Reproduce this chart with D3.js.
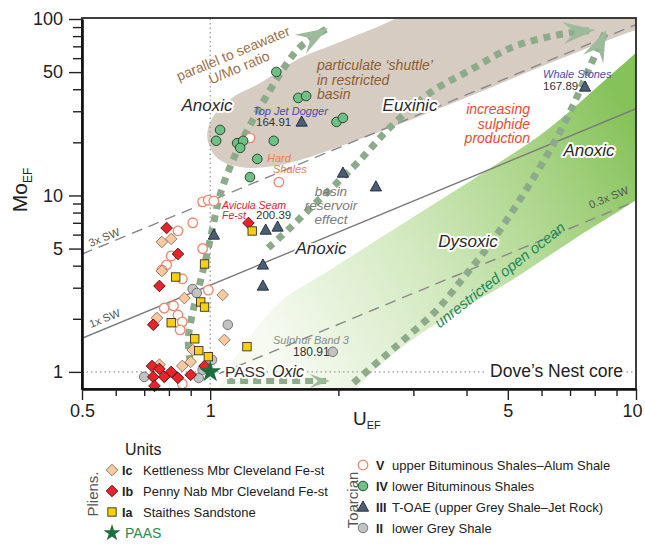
<!DOCTYPE html>
<html>
<head>
<meta charset="utf-8">
<script src="https://cdn.jsdelivr.net/npm/d3@7/dist/d3.min.js"></script>
<style>
  body { margin: 0; background: #fff; }
  text { font-family: "Liberation Sans", Arial, sans-serif; }
  .halo { paint-order: stroke; stroke: #fff; stroke-width: 4px; stroke-linejoin: round; }
</style>
</head>
<body>
<svg id="chart" width="645" height="545"></svg>
<script>
// ---- ticks ----
const xMajor = [0.5, 1, 5, 10];
const xMinor = [0.6, 0.7, 0.8, 0.9, 2, 3, 4, 6, 7, 8, 9];
const yMajor = [1, 5, 10, 50, 100];
const yMinor = [2, 3, 4, 6, 7, 8, 9, 20, 30, 40, 60, 70, 80, 90];

// ---- seawater reference lines (Mo_EF = ratio * k * U_EF) ----
const swRatio = 3.1;
const swMultiples = [3, 1, 0.3];
const swLabels = ["3x SW", "1x SW", "0.3x SW"];

// ---- samples [U_EF, Mo_EF] ----
const unitV = [[1.24,21.2],[1.45,11.9],[0.96,9.2],[0.99,9.4],[1.02,9.3],[0.91,7.0],[0.84,6.3],[0.96,5.0],
  [0.81,4.54],[0.79,4.04],[0.77,3.78],[0.86,3.37],[0.99,2.91],[0.78,2.30],[0.82,2.37],[0.84,2.10],
  [0.86,1.92],[0.85,1.73],[0.86,0.855]];
const unitIV = [[1.43,50.1],[1.61,35.7],[1.68,36.6],[1.98,26.1],[2.05,27.5],[1.055,23.5],[1.033,20.4],
  [1.157,19.8],[1.195,20.4],[1.176,18.6],[1.41,20.4],[1.29,16.1],[1.24,12.7]];
const unitIII = [[1.64,26.1],[7.59,41.2],[1.02,5.97],[1.35,6.37],[1.44,6.63],[1.33,4.04],[1.33,3.07],
  [2.05,13.4],[2.45,11.2]];
const unitII = [[0.91,2.95],[0.93,2.80],[1.10,1.85],[1.94,1.30],[0.70,0.937],[0.94,0.925],[0.96,1.03],[1.01,1.17]];
const unitIc = [[0.77,5.45],[0.81,5.67],[0.77,3.73],[0.87,2.62],[1.07,2.73],[0.75,2.02],[1.08,1.52],
  [0.91,1.33],[0.90,1.14],[0.86,1.08],[0.76,1.10]];
const unitIb = [[0.79,6.54],[0.84,4.66],[0.76,3.07],[0.735,1.85],[0.73,1.08],[0.76,1.04],[0.81,1.0],
  [0.735,0.937],[0.78,0.937],[0.84,0.925],[0.90,0.962],[0.74,0.833],[1.23,6.98],[0.97,1.08]];
const unitIa = [[1.255,6.29],[0.97,4.09],[0.83,3.45],[0.95,2.49],[0.97,2.33],[0.81,1.90],[0.92,1.54],
  [0.94,1.32],[0.99,1.22],[1.22,1.39]];
const paas = [[1, 1]];

// ---- background fields and trend arrows [U_EF, Mo_EF] ----
const shuttleField = [[0.984,21.5],[1.016,27.9],[1.132,36.1],[1.31,43.4],[1.626,60.1],[1.91,70.3],
  [2.37,86.6],[3.11,112],[6.28,146],[14.1,146],[14.1,112],[10,86.6],[6.28,56.3],[4.08,36.6],
  [2.79,25.4],[1.91,18.1],[1.626,15.9],[1.36,14.5],[1.176,14.5],[1.038,16.3]];
const oceanTop = [[1.02,0.74],[1.176,1.33],[1.46,2.49],[1.91,3.78],[3.00,7.55],[4.47,13.9],[6.18,23.5],
  [8.83,49.4],[10.8,76.0]];
const oceanBottom = [[10.8,10.7],[9.84,9.18],[7.11,5.60],[4.98,3.19],[3.28,1.78],[2.51,1.10],[2.17,0.77]];
const arrowOxic = [[1.096,0.889],[1.91,0.889]];
const arrowOpen = [[2.17,0.866],[2.51,1.17],[2.90,1.58],[3.41,2.25],[3.93,3.41],[4.47,5.04],[5.06,7.75],
  [5.70,12.2],[6.38,19.3],[7.10,32.0],[7.75,52.0],[8.51,86.6]];
const arrowRestricted = [[0.898,1.14],[0.888,1.52],[0.907,2.10],[0.937,2.91],[0.973,4.20],[1.011,6.37],
  [1.055,10.1],[1.145,17.0],[1.26,26.8],[1.383,39.6],[1.50,54.2],[1.626,69.4],[1.89,88.9]];
const arrowShuttle = [[1.368,5.04],[1.54,6.54],[1.72,8.50],[1.965,11.5],[2.25,15.9],[2.65,24.4],
  [3.28,38.1],[4.08,51.4],[5.14,69.4],[6.53,81.2],[8.01,86.6]];

const pliensUnits = [
  {code: "Ic", name: "Kettleness Mbr Cleveland Fe-st"},
  {code: "Ib", name: "Penny Nab Mbr Cleveland Fe-st"},
  {code: "Ia", name: "Staithes Sandstone"}
];
const toarcUnits = [
  {code: "V", name: "upper Bituminous Shales\u2013Alum Shale"},
  {code: "IV", name: "lower Bituminous Shales"},
  {code: "III", name: "T-OAE (upper Grey Shale\u2013Jet Rock)"},
  {code: "II", name: "lower Grey Shale"}
];

// ---- look ----
const look = {
  Ic:  {shape: "diamond",  fill: "#f9caa0", stroke: "#8a7262"},
  Ib:  {shape: "diamond",  fill: "#e8232b", stroke: "#4a1212"},
  Ia:  {shape: "square",   fill: "#f6d00c", stroke: "#3a3222"},
  V:   {shape: "circle",   fill: "#ffffff", stroke: "#f2866a"},
  IV:  {shape: "circle",   fill: "#6fc084", stroke: "#1f3a28"},
  III: {shape: "triangle", fill: "#4c5d74", stroke: "#1d2836"},
  II:  {shape: "circle",   fill: "#c2c2c2", stroke: "#6a6a6a"},
  PAAS:{shape: "star",     fill: "#1c6e3c", stroke: "none"}
};

const svg = d3.select("#chart");
const x = d3.scaleLog().domain([0.5, 10]).range([82, 636]);
const y = d3.scaleLog().domain([0.8, 100]).range([389, 19]);

const defs = svg.append("defs");
defs.append("clipPath").attr("id", "plotClip")
  .append("rect").attr("x", 82).attr("y", 18).attr("width", 554).attr("height", 371);

const grad = defs.append("linearGradient").attr("id", "oceanGrad")
  .attr("gradientUnits", "userSpaceOnUse")
  .attr("x1", 270).attr("y1", 340).attr("x2", 636).attr("y2", 130);
grad.append("stop").attr("offset", 0).attr("stop-color", "#f6faf1");
grad.append("stop").attr("offset", 0.4).attr("stop-color", "#d3e9c0");
grad.append("stop").attr("offset", 0.75).attr("stop-color", "#a9d487");
grad.append("stop").attr("offset", 1).attr("stop-color", "#86c25a");

function addHead(id, len, half, notch) {
  defs.append("marker").attr("id", id)
    .attr("viewBox", (-len - 2) + " " + (-half - 1) + " " + (len + 4) + " " + (2 * half + 2))
    .attr("markerWidth", len + 4).attr("markerHeight", 2 * half + 2)
    .attr("refX", 0).attr("refY", 0)
    .attr("orient", "auto").attr("markerUnits", "userSpaceOnUse")
    .append("path")
    .attr("d", "M0,0L" + (-len) + "," + (-half) + "L" + (-notch) + ",0L" + (-len) + "," + half + "Z")
    .attr("fill", "#9dba9b");
}
addHead("headBig", 32, 11, 20);
addHead("headSmall", 20, 7, 12);

const plot = svg.append("g").attr("clip-path", "url(#plotClip)");

// open ocean field
const smooth = d3.line().x(d => x(d[0])).y(d => y(d[1])).curve(d3.curveCatmullRom.alpha(0.5));
const oceanPath = smooth(oceanTop) + smooth(oceanBottom).replace("M", "L") + "Z";
plot.append("path").attr("d", oceanPath).attr("fill", "url(#oceanGrad)");

// particulate shuttle field
plot.append("path")
  .attr("d", d3.line().x(d => x(d[0])).y(d => y(d[1])).curve(d3.curveCatmullRomClosed.alpha(0.5))(shuttleField))
  .attr("fill", "#d6ccc2");

// PAAS reference lines
plot.append("line").attr("x1", x(1)).attr("x2", x(1)).attr("y1", y(0.8)).attr("y2", y(100))
  .attr("stroke", "#999").attr("stroke-width", 1.3).attr("stroke-dasharray", "1.5,3");
plot.append("line").attr("x1", x(0.5)).attr("x2", x(10)).attr("y1", y(1)).attr("y2", y(1))
  .attr("stroke", "#999").attr("stroke-width", 1.3).attr("stroke-dasharray", "1.5,3");

// seawater lines
swMultiples.forEach((k, i) => {
  const u0 = k < 1 ? 1.05 : 0.5;
  plot.append("line")
    .attr("x1", x(u0)).attr("y1", y(u0 * k * swRatio))
    .attr("x2", x(10)).attr("y2", y(10 * k * swRatio))
    .attr("stroke", k === 1 ? "#7a7a7a" : "#888").attr("stroke-width", 1.4)
    .attr("stroke-dasharray", k === 1 ? null : "11,7");
});

// trend arrows
[arrowOpen, arrowRestricted, arrowShuttle].forEach(a => {
  plot.append("path").attr("d", smooth(a)).attr("fill", "none")
    .attr("stroke", "#8dab8b").attr("stroke-width", 7).attr("stroke-dasharray", "7,6")
    .attr("marker-end", "url(#headBig)");
});
plot.append("path").attr("d", smooth(arrowOxic)).attr("fill", "none")
  .attr("stroke", "#8dab8b").attr("stroke-width", 6).attr("stroke-dasharray", "8,5")
  .attr("marker-end", "url(#headSmall)");

// ---- annotations ----
const notes = svg.append("g");
function note(txt, px, py, o) {
  const t = notes.append("text").attr("x", px).attr("y", py).text(txt)
    .attr("font-size", o.size || 12).attr("fill", o.color || "#333")
    .attr("text-anchor", o.anchor || "start");
  if (o.italic) t.attr("font-style", "italic");
  if (o.halo) t.attr("class", "halo");
  if (o.rotate) t.attr("transform", "rotate(" + o.rotate + "," + px + "," + py + ")");
  return t;
}
const brown = "#a0714a", shuttleBrown = "#8c5c36", blue = "#4a4aa8";

note("parallel to seawater", 235, 58, {size: 14, color: brown, anchor: "middle", rotate: -22.6});
note("U/Mo ratio", 241, 72, {size: 14, color: brown, anchor: "middle", rotate: -22.6});
note("particulate \u2018shuttle\u2019", 317, 70, {size: 14, color: shuttleBrown, italic: true});
note("in restricted", 317, 84.5, {size: 14, color: shuttleBrown, italic: true});
note("basin", 317, 99, {size: 14, color: shuttleBrown, italic: true});

note("Anoxic", 207, 111, {size: 17, color: "#2a2a2a", italic: true, halo: true, anchor: "middle"});
note("Euxinic", 410, 111, {size: 17, color: "#2a2a2a", italic: true, halo: true, anchor: "middle"});
note("Anoxic", 589, 156, {size: 17, color: "#2a2a2a", italic: true, halo: true, anchor: "middle"});
note("Anoxic", 321, 254, {size: 17, color: "#2a2a2a", italic: true, halo: true, anchor: "middle"});
note("Dysoxic", 468, 247, {size: 17, color: "#2a2a2a", italic: true, halo: true, anchor: "middle"});

note("Top Jet Dogger", 253, 115, {size: 11, color: blue, italic: true});
note("164.91", 256, 126, {size: 11.5, color: "#333"});
note("Whale Stones", 543, 78, {size: 11, color: blue, italic: true});
note("167.89", 543, 90, {size: 11.5, color: "#333"});

["increasing", "sulphide", "production"].forEach((s, i) =>
  note(s, 530, 114 + i * 14.5, {size: 14, color: "#f0482c", italic: true, anchor: "end"}));

note("Hard", 267, 162, {size: 11, color: "#f27a55", italic: true});
note("Shales", 273, 173, {size: 11, color: "#f27a55", italic: true});

["basin", "reservoir", "effect"].forEach((s, i) =>
  note(s, 331, 196 + i * 14, {size: 13.5, color: "#7a7a7a", italic: true, anchor: "middle"}));

note("Avicula Seam", 222, 208.5, {size: 10.5, color: "#e8202a", italic: true});
note("Fe-st", 222, 219, {size: 10.5, color: "#e8202a", italic: true});
note("200.39", 256, 219, {size: 11.5, color: "#333"});

note("Sulphur Band 3", 273, 344, {size: 11, color: "#8a8a8a", italic: true});
note("180.91", 293, 356, {size: 12, color: "#333"});

const swPos = [[105.5, 241], [106, 322], [610, 201]];
swLabels.forEach((s, i) =>
  note(s, swPos[i][0], swPos[i][1], {size: 11, color: "#555", anchor: "middle", rotate: -22}));

note("unrestricted open ocean", 503, 279, {size: 15, color: "#23875a", italic: true, anchor: "middle", rotate: -38});

note("PASS", 225, 377, {size: 15.5, color: "#333", halo: true});
note("Oxic", 272, 377, {size: 16, color: "#2a2a2a", italic: true, halo: true});

const dove = note("Dove\u2019s Nest core", 623, 377, {size: 17.5, color: "#222", anchor: "end"});
const db = dove.node().getBBox();
notes.insert("rect", () => dove.node())
  .attr("x", db.x - 5).attr("y", db.y).attr("width", db.width + 5).attr("height", db.height)
  .attr("fill", "#fff");

// ---- samples ----
function addSymbol(sel, key, starSize) {
  const st = look[key];
  let m;
  if (st.shape === "diamond") m = sel.append("path").attr("d", "M0,-5.8L5.8,0L0,5.8L-5.8,0Z");
  else if (st.shape === "square") m = sel.append("rect").attr("x", -4.2).attr("y", -4.2).attr("width", 8.4).attr("height", 8.4);
  else if (st.shape === "circle") m = sel.append("circle").attr("r", 4.8);
  else if (st.shape === "triangle") m = sel.append("path").attr("d", "M0,-6L5.6,4.2L-5.6,4.2Z");
  else m = sel.append("path").attr("d", d3.symbol(d3.symbolStar, starSize || 150)());
  m.attr("fill", st.fill).attr("stroke", st.stroke).attr("stroke-width", key === "V" ? 1.3 : 0.9);
}

const pts = svg.append("g");
[["II", unitII], ["V", unitV], ["IV", unitIV], ["III", unitIII], ["Ic", unitIc], ["Ib", unitIb], ["Ia", unitIa], ["PAAS", paas]]
  .forEach(([key, data]) => {
    pts.selectAll(null).data(data).enter().append("g")
      .attr("transform", d => "translate(" + x(d[0]) + "," + y(d[1]) + ")")
      .each(function () { addSymbol(d3.select(this), key); });
  });

// ---- frame and axes ----
svg.append("rect").attr("x", 82).attr("y", 18).attr("width", 554).attr("height", 371)
  .attr("fill", "none").attr("stroke", "#2a2a2a").attr("stroke-width", 1.8);

const axFont = "Liberation Sans, Arial, sans-serif";
const axY = svg.append("g").attr("transform", "translate(82,0)")
  .call(d3.axisLeft(y).tickValues(yMajor).tickSize(13).tickSizeOuter(0).tickPadding(6).tickFormat(d3.format("d")))
  .attr("font-size", 18).attr("font-family", axFont);
axY.append("g").call(d3.axisLeft(y).tickValues(yMinor).tickSize(9).tickSizeOuter(0).tickFormat(""))
  .select(".domain").remove();

const axX = svg.append("g").attr("transform", "translate(0,389)")
  .call(d3.axisBottom(x).tickValues(xMajor).tickSize(11).tickSizeOuter(0).tickPadding(4).tickFormat(d => d))
  .attr("font-size", 18).attr("font-family", axFont);
axX.append("g").call(d3.axisBottom(x).tickValues(xMinor).tickSize(7).tickSizeOuter(0).tickFormat(""))
  .select(".domain").remove();
// keep the last label inside the page
axX.selectAll(".tick text").filter(d => d === 10).attr("dx", -4);

[axX, axY].forEach(a => {
  a.selectAll(".tick line").attr("stroke", "#222").attr("stroke-width", 1.4);
  a.selectAll(".tick text").attr("fill", "#222");
  a.select(".domain").attr("stroke", "#111").attr("stroke-width", 2.6);
});

// axis titles
const yt = svg.append("text").attr("transform", "translate(27,190) rotate(-90)")
  .attr("text-anchor", "middle").attr("fill", "#222");
yt.append("tspan").attr("font-size", 21).text("Mo");
yt.append("tspan").attr("font-size", 12).attr("dy", 5).text("EF");
const xt = svg.append("text").attr("x", 353).attr("y", 425).attr("fill", "#222");
xt.append("tspan").attr("font-size", 19).text("U");
xt.append("tspan").attr("font-size", 11).attr("dy", 4).text("EF");

// ---- legend ----
const leg = svg.append("g");
leg.append("text").attr("x", 125).attr("y", 455).attr("font-size", 16).attr("fill", "#222").text("Units");
leg.append("text").attr("transform", "translate(98,494) rotate(-90)").attr("text-anchor", "middle")
  .attr("font-size", 15).attr("fill", "#555").text("Pliens.");
leg.append("text").attr("transform", "translate(358,500) rotate(-90)").attr("text-anchor", "middle")
  .attr("font-size", 15).attr("fill", "#555").text("Toarcian");

function legendRows(items, sx, nx, tx, y0) {
  items.forEach((d, i) => {
    const yy = y0 + i * 21;
    const s = leg.append("g").attr("transform", "translate(" + sx + "," + yy + ")");
    addSymbol(s, d.code);
    leg.append("text").attr("x", nx).attr("y", yy + 4.5).attr("font-size", 12.5)
      .attr("font-weight", "bold").attr("fill", "#222").text(d.code);
    leg.append("text").attr("x", tx).attr("y", yy + 4.5).attr("font-size", 13)
      .attr("fill", "#222").text(d.name);
  });
}
legendRows(pliensUnits, 112, 122, 143, 470);
legendRows(toarcUnits, 363, 376, 392, 465);
const ps = leg.append("g").attr("transform", "translate(112,533)");
addSymbol(ps, "PAAS", 90);
leg.append("text").attr("x", 125).attr("y", 538).attr("font-size", 14).attr("fill", "#2a8a4e").text("PAAS");
</script>
</body>
</html>
